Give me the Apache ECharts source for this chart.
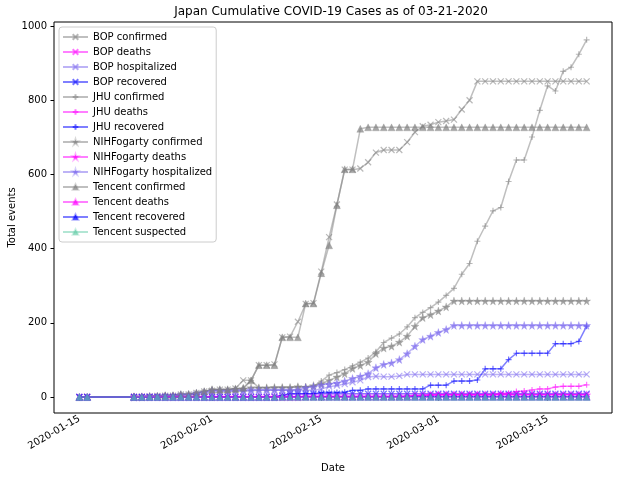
<!DOCTYPE html>
<html><head><meta charset="utf-8">
<script src="https://cdn.jsdelivr.net/npm/echarts@6/dist/echarts.min.js"></script>
<style>html,body{margin:0;padding:0;background:#fff}#c{width:618px;height:480px}</style>
</head><body><div id="c"></div>
<script>
const dates = ['2020-01-15','2020-01-16',
 '2020-01-22','2020-01-23','2020-01-24','2020-01-25','2020-01-26','2020-01-27','2020-01-28','2020-01-29','2020-01-30','2020-01-31',
 '2020-02-01','2020-02-02','2020-02-03','2020-02-04','2020-02-05','2020-02-06','2020-02-07','2020-02-08','2020-02-09','2020-02-10',
 '2020-02-11','2020-02-12','2020-02-13','2020-02-14','2020-02-15','2020-02-16','2020-02-17','2020-02-18','2020-02-19','2020-02-20',
 '2020-02-21','2020-02-22','2020-02-23','2020-02-24','2020-02-25','2020-02-26','2020-02-27','2020-02-28','2020-02-29',
 '2020-03-01','2020-03-02','2020-03-03','2020-03-04','2020-03-05','2020-03-06','2020-03-07','2020-03-08','2020-03-09','2020-03-10',
 '2020-03-11','2020-03-12','2020-03-13','2020-03-14','2020-03-15','2020-03-16','2020-03-17','2020-03-18','2020-03-19','2020-03-20'];

const bopConfirmed = [0,1, 1,1,2,3,4,4,7,7,11,15,
 17,20,20,23,45,45,86,86,88,161, 163,203,251,253,338,431,519,613,613,616, 633,659,666,666,666,687,714,730,734,
 741,744,748,775,800,851,851,851,851,851, 851,851,851,851,851,851,851,851,851,851];
const bopDeaths = [0,0, 0,0,0,0,0,0,0,0,0,0,
 0,0,0,0,0,0,0,0,0,0, 0,0,1,1,1,1,1,1,1,1, 1,1,1,1,1,2,3,4,5,
 6,6,6,6,6,6,6,6,6,6, 6,6,6,6,6,6,6,6,6,6];
const bopHospitalized = [0,0, 0,0,1,1,2,2,4,4,7,9,
 12,14,14,16,16,17,18,18,18,18, 18,18,18,18,22,28,31,35,40,45, 54,56,55,55,57,61,61,61,61,
 61,61,61,61,61,61,61,61,61,61, 61,61,61,61,61,61,61,61,61,61];
const bopRecovered = [0,0, 0,0,0,0,0,0,0,0,0,0,
 0,0,0,0,0,0,0,0,1,4, 9,9,9,9,9,9,9,9,9,9, 9,9,9,9,9,9,9,9,9,
 9,9,9,9,9,9,9,9,9,9, 9,9,9,9,9,9,9,9,9,9];

const jhuConfirmed = [null,null, 2,1,2,2,4,4,7,7,11,15,
 20,20,20,22,22,45,25,25,26,26, 26,28,28,29,43,59,66,74,84,94, 105,122,147,159,170,189,214,228,241,
 256,274,293,331,360,420,461,502,511,581, 639,639,701,773,839,825,878,889,924,963];
const jhuDeaths = [null,null, 0,0,0,0,0,0,0,0,0,0,
 0,0,0,0,0,0,0,0,0,0, 0,0,1,1,1,1,1,1,1,1, 1,1,1,1,1,2,4,4,5,
 6,6,6,6,6,6,6,6,10,10, 15,16,19,22,22,27,29,29,29,33];
const jhuRecovered = [null,null, 0,0,0,1,1,1,1,1,1,1,
 1,1,1,1,1,1,1,1,1,4, 9,9,9,9,12,12,12,13,18,18, 22,22,22,22,22,22,22,22,32,
 32,32,43,43,43,46,76,76,76,101, 118,118,118,118,118,144,144,144,150,191];

const nihConfirmed = [null,null, 1,1,2,2,4,4,7,7,11,15,
 20,20,20,22,22,25,25,25,26,26, 26,28,27,31,36,45,54,63,77,85, 94,117,132,137,148,164,191,214,222,
 232,243,259,259,259,259,259,259,259,259, 259,259,259,259,259,259,259,259,259,259];
const nihDeaths = [null,null, 0,0,0,0,0,0,0,0,0,0,
 0,0,0,0,0,0,0,0,0,0, 0,0,1,1,1,1,1,1,1,1, 1,1,1,1,1,1,3,4,5,
 6,6,6,6,6,6,6,6,6,6, 6,6,6,6,6,6,6,6,6,6];
const nihHospitalized = [null,null, 0,0,1,1,3,3,6,6,9,12,
 16,16,16,17,17,18,18,18,18,18, 18,19,25,28,33,35,38,43,50,56, 63,79,88,92,101,117,137,155,164,
 174,182,193,193,193,193,193,193,193,193, 193,193,193,193,193,193,193,193,193,193];

const tcConfirmed = [0,1, 1,1,2,3,4,4,7,8,11,15,
 20,20,20,22,25,45,86,86,86,161, 161,161,252,252,334,409,517,614,614,723, 727,727,727,727,727,727,727,727,727,
 727,727,727,727,727,727,727,727,727,727, 727,727,727,727,727,727,727,727,727,727];
const tcDeaths = [0,0, 0,0,0,0,0,0,0,0,0,0,
 0,0,0,0,0,0,0,0,0,0, 0,0,1,1,1,1,1,1,1,1, 1,1,1,1,1,1,1,1,1,
 1,1,1,1,1,1,1,1,1,1, 1,1,1,1,1,1,1,1,1,1];
const tcRecovered = [0,0, 0,0,0,0,0,0,0,0,0,0,
 0,0,0,0,0,0,0,0,0,1, 1,1,1,1,1,1,1,1,1,1, 1,1,1,1,1,1,1,1,1,
 1,1,1,1,1,1,1,1,1,1, 1,1,1,1,1,1,1,1,1,1];
const tcSuspected = [0,0, 0,0,0,0,0,0,0,0,0,0,
 0,0,0,0,0,0,0,0,0,0, 0,0,0,0,0,0,0,0,0,0, 0,0,0,0,0,0,0,0,0,
 0,0,0,0,0,0,0,0,0,0, 0,0,0,0,0,0,0,0,0,0];

const xTickDates = ['2020-01-15','2020-02-01','2020-02-15','2020-03-01','2020-03-15'];
const yTicks = [0,200,400,600,800,1000];

function ts(d){ const p = d.split('-'); return Date.UTC(+p[0], +p[1]-1, +p[2]); }
const DAY = 86400000;
const xMin = ts(dates[0]) - 3.25*DAY, xMax = ts(dates[dates.length-1]) + 3.25*DAY;

const SYM = {
  x: 'path://M0,0L10,10M0,10L10,0',
  plus: 'path://M5,0L5,10M0,5L10,5',
  star: 'path://M50,0L61,35L98,35L68,57L79,91L50,70L21,91L32,57L2,35L39,35Z',
  tri: 'triangle'
};
const RGB = {confirmed:'128,128,128', deaths:'255,0,255', hospitalized:'123,104,238', recovered:'0,0,255', suspected:'102,205,170'};

const specs = [
  ['BOP confirmed', bopConfirmed, 'x', 'confirmed'],
  ['BOP deaths', bopDeaths, 'x', 'deaths'],
  ['BOP hospitalized', bopHospitalized, 'x', 'hospitalized'],
  ['BOP recovered', bopRecovered, 'x', 'recovered'],
  ['JHU confirmed', jhuConfirmed, 'plus', 'confirmed'],
  ['JHU deaths', jhuDeaths, 'plus', 'deaths'],
  ['JHU recovered', jhuRecovered, 'plus', 'recovered'],
  ['NIHFogarty confirmed', nihConfirmed, 'star', 'confirmed'],
  ['NIHFogarty deaths', nihDeaths, 'star', 'deaths'],
  ['NIHFogarty hospitalized', nihHospitalized, 'star', 'hospitalized'],
  ['Tencent confirmed', tcConfirmed, 'tri', 'confirmed'],
  ['Tencent deaths', tcDeaths, 'tri', 'deaths'],
  ['Tencent recovered', tcRecovered, 'tri', 'recovered'],
  ['Tencent suspected', tcSuspected, 'tri', 'suspected']
];

const series = specs.map(([name, vals, mk, kind]) => {
  const rgb = RGB[kind];
  const stroke = mk === 'x' || mk === 'plus';
  const data = [];
  vals.forEach((v, i) => { if (v !== null) data.push([ts(dates[i]), v]); });
  return {
    name, type: 'line', data,
    symbol: SYM[mk],
    symbolSize: mk === 'star' ? 8 : (mk === 'tri' ? 7 : 6),
    showSymbol: true,
    lineStyle: {color: 'rgba(' + rgb + ',0.5)', width: 1.5},
    itemStyle: stroke
      ? {color: 'rgba(' + rgb + ',0.55)', borderColor: 'rgba(' + rgb + ',0.55)', borderWidth: 1.2}
      : {color: 'rgba(' + rgb + ',0.7)', borderColor: 'rgba(' + rgb + ',0.3)', borderWidth: 0.8},
    emphasis: {disabled: true},
    animation: false
  };
});

const FONT = 'DejaVu Sans';
const chart = echarts.init(document.getElementById('c'), null, {renderer: 'canvas'});
chart.setOption({
  backgroundColor: '#fff',
  animation: false,
  title: {
    text: 'Japan Cumulative COVID-19 Cases as of 03-21-2020',
    left: 331, top: 6, textAlign: 'center', padding: 0,
    textStyle: {fontFamily: FONT, fontSize: 12, fontWeight: 'normal', color: '#000'}
  },
  grid: {left: 54, right: 6, top: 22, bottom: 67, containLabel: false, outerBoundsMode: 'none',
    show: true, borderColor: '#000', borderWidth: 1, backgroundColor: 'transparent'},
  legend: {
    orient: 'vertical', left: 59, top: 27,
    padding: [5, 4, 5, 3], itemGap: 5, itemWidth: 25, itemHeight: 7,
    borderColor: '#ccc', borderWidth: 1, borderRadius: 3, backgroundColor: 'rgba(255,255,255,0.8)',
    selectedMode: false,
    textStyle: {fontFamily: FONT, fontSize: 10, color: '#000', lineHeight: 10},
    data: specs.map(s => s[0])
  },
  xAxis: {
    type: 'value', min: xMin, max: xMax,
    name: 'Date', nameLocation: 'middle', nameGap: 50, nameMoveOverlap: false,
    nameTextStyle: {fontFamily: FONT, fontSize: 10, color: '#000', verticalAlign: 'top'},
    axisLine: {show: false},
    splitLine: {show: false},
    axisTick: {show: true, length: 3.5, lineStyle: {color: '#000'}, customValues: xTickDates.map(ts)},
    axisLabel: {
      customValues: xTickDates.map(ts), rotate: 30, margin: 5,
      fontFamily: FONT, fontSize: 10, color: '#000',
      formatter: v => new Date(v).toISOString().slice(0, 10)
    }
  },
  yAxis: {
    type: 'value', min: -43, max: 1011,
    name: 'Total events', nameLocation: 'middle', nameGap: 37, nameMoveOverlap: false,
    nameTextStyle: {fontFamily: FONT, fontSize: 10, color: '#000'},
    axisLine: {show: false},
    splitLine: {show: false},
    axisTick: {show: true, length: 3.5, lineStyle: {color: '#000'}, customValues: yTicks},
    axisLabel: {customValues: yTicks, margin: 7, fontFamily: FONT, fontSize: 10, color: '#000',
      formatter: v => String(v)}
  },
  series
});
</script></body></html>
